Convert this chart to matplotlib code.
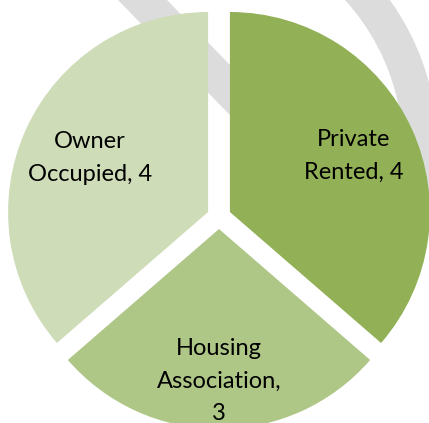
import numpy as np
import matplotlib
matplotlib.use("Agg")
import matplotlib.pyplot as plt
from matplotlib.patches import Wedge, Polygon

# data
labels = ["Private\nRented, 4", "Housing\nAssociation,\n3", "Owner\nOccupied, 4"]
values = [4, 3, 4]
colors = ["#92B056", "#AEC686", "#CEDCB8"]

# radial position of each label, as a fraction of the radius
label_r = [0.68, 0.76, 0.65]

W, H = 429, 423
R = 200.0            # pie radius in pixels
cx, cy = 219, 217    # pie centre in pixels (from top-left)

fig = plt.figure(figsize=(W / 100, H / 100), dpi=100)
ax = fig.add_axes([0, 0, 1, 1])

# background watermark (gray ring + diagonal bar), in unit coords
def px(x, y):
    return ((x - cx) / R, (cy - y) / R)

gray = "#DCDCDC"
ring_c = px(180, 150)
ax.add_patch(Wedge(ring_c, 258 / R, -40, 80, width=35 / R,
                   facecolor=gray, edgecolor="none", zorder=0))
bar = [px(118, 0), px(167, 0), px(260, 96), px(260, 146)]
ax.add_patch(Polygon(bar, closed=True, facecolor=gray, edgecolor="none", zorder=0))

wedges, _ = ax.pie(values, colors=colors, startangle=90, counterclock=False,
                   explode=[0.06, 0.06, 0.06], radius=1,
                   wedgeprops=dict(linewidth=0, zorder=1))

for w, lab, f in zip(wedges, labels, label_r):
    th = np.deg2rad((w.theta1 + w.theta2) / 2)
    x0, y0 = w.center
    ax.text(x0 + f * w.r * np.cos(th), y0 + f * w.r * np.sin(th), lab,
            ha="center", va="center", multialignment="center",
            fontsize=17, family="Lato", color="#000000",
            linespacing=1.7, zorder=3)

ax.set_xlim(-cx / R, (W - cx) / R)
ax.set_ylim(-(H - cy) / R, cy / R)
ax.set_aspect("equal")
ax.axis("off")

fig.savefig("out.png", dpi=100)
